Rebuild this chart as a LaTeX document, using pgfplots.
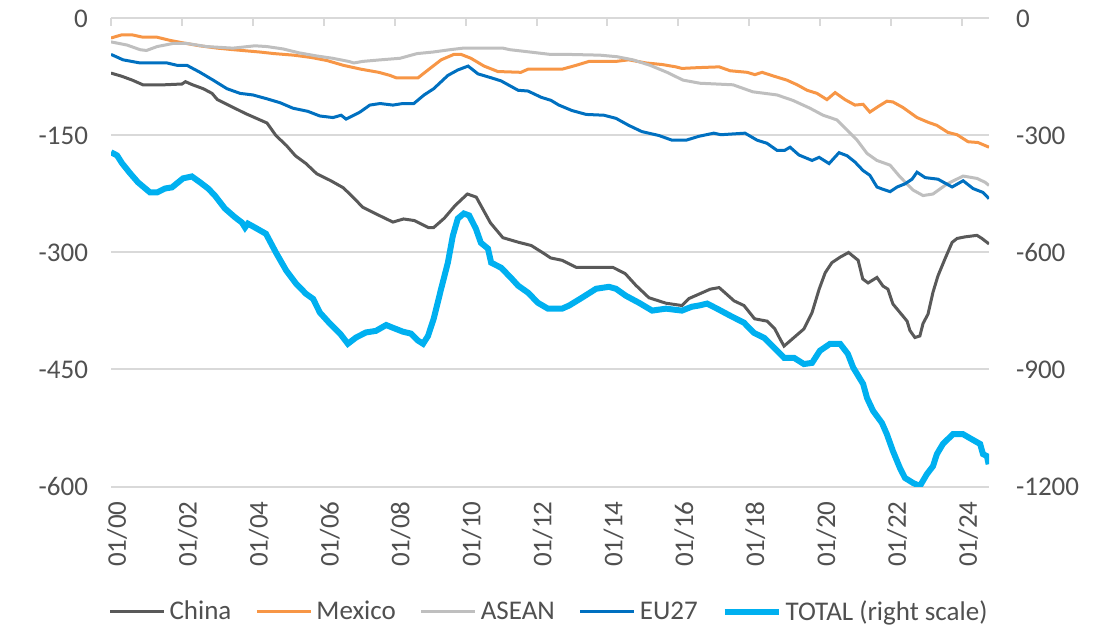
\documentclass[border=0pt]{standalone}
\usepackage{fontspec}
\setmainfont{Carlito}
\usepackage{pgfplots}
\pgfplotsset{compat=1.18}
\definecolor{cChina}{HTML}{595959}
\definecolor{cMexico}{HTML}{F79646}
\definecolor{cAsean}{HTML}{BFBFBF}
\definecolor{cEU}{HTML}{0070C0}
\definecolor{cTotal}{HTML}{00B0F0}
\definecolor{cGrid}{HTML}{D9D9D9}
\definecolor{cText}{HTML}{505050}
\begin{document}
\begin{tikzpicture}
\pgfplotsset{
  common/.style={width=439pt,height=234pt,scale only axis,
    at={(55.5pt,72.75pt)},anchor=south west,
    xmin=2000,xmax=2024.76,
    every tick label/.append style={font=\fontsize{13.5}{16}\selectfont,text=cText},
  },
}
\begin{axis}[common,
  ymin=-600,ymax=0,
  ytick={-600,-450,-300,-150,0},
  yticklabels={-600,-450,-300,-150,0},
  ymajorgrids, grid style={draw=cGrid,line width=1pt},
  axis x line*=bottom, axis y line*=left,
  axis line style={draw=none},
  major tick length=0pt,
  xtick={2000,2002,...,2024},
  xticklabels={01/00,01/02,01/04,01/06,01/08,01/10,01/12,01/14,01/16,01/18,01/20,01/22,01/24},
  xticklabel style={xshift=3pt,yshift=-4pt,rotate=90,anchor=east},
  yticklabel style={xshift=-8pt},
  legend style={at={(0.5,-0.268)},anchor=center,legend columns=5,draw=none,
    font=\fontsize{13.5}{16}\selectfont,text=cText,
    /tikz/every even column/.append style={column sep=10pt}},
  legend cell align=left,
  legend image code/.code={\draw[#1] (0pt,0pt) -- (27pt,0pt);},
]
\addplot[cChina,line width=1.5pt] coordinates {
(2000.0,-70)(2000.3,-74)(2000.6,-79)(2000.9,-85)(2001.5,-85)(2002.0,-84)(2002.1,-81)(2002.3,-85)
(2002.6,-90)(2002.85,-96)(2003.0,-104)(2003.4,-113)(2003.8,-122)(2004.05,-127)(2004.4,-134)
(2004.65,-150)(2004.95,-163)(2005.2,-176)(2005.5,-186)(2005.8,-199)(2006.2,-208)(2006.55,-217)
(2006.8,-228)(2007.1,-242)(2007.45,-250)(2007.95,-261)(2008.25,-257)(2008.55,-259)(2008.95,-268)
(2009.1,-268)(2009.4,-256)(2009.7,-240)(2010.05,-225)(2010.3,-229)(2010.7,-262)(2011.05,-281)
(2011.5,-287)(2011.85,-291)(2012.2,-301)(2012.4,-307)(2012.72,-310)(2013.12,-319)(2014.15,-319)
(2014.5,-327)(2014.8,-342)(2015.17,-358)(2015.65,-365)(2016.1,-368)(2016.3,-359)(2016.6,-353)
(2016.9,-347)(2017.15,-345)(2017.3,-351)(2017.57,-362)(2017.85,-368)(2018.15,-385)(2018.5,-388)
(2018.72,-398)(2018.87,-411)(2018.98,-420)(2019.26,-409)(2019.54,-398)(2019.77,-377)(2019.97,-347)
(2020.14,-326)(2020.33,-313)(2020.56,-306)(2020.8,-300)(2021.07,-310)(2021.2,-334)(2021.35,-339)
(2021.6,-332)(2021.77,-343)(2021.91,-347)(2022.05,-366)(2022.25,-377)(2022.45,-388)(2022.53,-400)
(2022.67,-409)(2022.81,-407)(2022.9,-391)(2023.04,-379)(2023.18,-351)(2023.32,-330)(2023.52,-308)
(2023.72,-287)(2023.86,-282)(2024.08,-280)(2024.42,-278)(2024.56,-282)(2024.76,-289)
};
\addlegendentry{China}
\addplot[cMexico,line width=1.5pt] coordinates {
(2000.0,-25)(2000.3,-21)(2000.6,-21)(2000.9,-24)(2001.3,-24)(2001.66,-28)(2002.0,-31)(2002.5,-35)
(2003.0,-38)(2003.45,-40)(2004.2,-43)(2004.6,-45)(2005.15,-47)(2005.65,-50)(2006.1,-54)(2006.55,-60)
(2007.05,-65)(2007.55,-69)(2007.87,-73)(2008.04,-76)(2008.66,-76)(2008.94,-66)(2009.31,-53)
(2009.67,-46)(2009.87,-46)(2010.15,-51)(2010.52,-61)(2010.91,-68)(2011.56,-69)(2011.76,-65)
(2012.72,-65)(2013.12,-60)(2013.48,-55)(2014.24,-55)(2014.6,-53)(2015.09,-57)(2015.54,-59)
(2015.93,-62)(2016.1,-64)(2016.55,-63)(2017.15,-62)(2017.46,-67)(2017.94,-69)(2018.16,-72)
(2018.36,-69)(2018.7,-74)(2019.06,-79)(2019.35,-85)(2019.63,-92)(2019.91,-96)(2020.19,-104)
(2020.42,-95)(2020.7,-104)(2020.98,-111)(2021.21,-110)(2021.4,-120)(2021.63,-113)(2021.88,-106)
(2022.05,-107)(2022.33,-114)(2022.73,-127)(2023.04,-133)(2023.29,-137)(2023.6,-146)(2023.86,-149)
(2024.17,-158)(2024.45,-159)(2024.76,-165)
};
\addlegendentry{Mexico}
\addplot[cAsean,line width=1.5pt] coordinates {
(2000.0,-30)(2000.45,-34)(2000.82,-40)(2001.0,-41)(2001.3,-36)(2001.75,-32)(2002.14,-32)(2002.7,-36)
(2003.44,-38)(2004.06,-35)(2004.4,-36)(2004.85,-39)(2005.3,-44)(2005.8,-48)(2006.25,-51)(2006.7,-55)
(2006.85,-57)(2007.1,-55)(2007.6,-53)(2008.15,-51)(2008.63,-45)(2009.08,-43)(2009.56,-40)(2009.93,-38)
(2011.05,-38)(2011.25,-40)(2011.82,-43)(2012.38,-46)(2012.86,-46)(2013.79,-47)(2014.27,-49)
(2014.72,-53)(2015.2,-60)(2015.68,-69)(2016.13,-79)(2016.61,-83)(2017.54,-85)(2018.1,-94)
(2018.78,-98)(2019.23,-105)(2019.71,-115)(2020.08,-124)(2020.47,-130)(2020.76,-143)(2021.04,-156)
(2021.32,-173)(2021.6,-182)(2021.97,-188)(2022.25,-203)(2022.62,-220)(2022.9,-227)(2023.18,-225)
(2023.58,-212)(2024.03,-202)(2024.42,-205)(2024.65,-210)(2024.76,-214)
};
\addlegendentry{ASEAN}
\addplot[cEU,line width=1.5pt] coordinates {
(2000.0,-46)(2000.34,-53)(2000.82,-57)(2001.58,-57)(2001.86,-60)(2002.14,-60)(2002.51,-69)
(2002.88,-79)(2003.27,-90)(2003.64,-96)(2004.0,-98)(2004.4,-103)(2004.77,-108)(2005.13,-115)
(2005.55,-119)(2005.89,-125)(2006.26,-127)(2006.49,-124)(2006.63,-129)(2007.02,-120)(2007.3,-111)
(2007.59,-109)(2007.95,-111)(2008.23,-109)(2008.54,-109)(2008.83,-98)(2009.1,-90)(2009.5,-73)
(2009.78,-66)(2010.07,-61)(2010.35,-71)(2010.72,-76)(2011.0,-80)(2011.48,-92)(2011.76,-93)
(2012.13,-101)(2012.41,-105)(2012.63,-111)(2013.0,-118)(2013.4,-123)(2013.9,-124)(2014.24,-128)
(2014.6,-137)(2014.97,-145)(2015.45,-150)(2015.82,-156)(2016.22,-156)(2016.58,-151)(2017.0,-147)
(2017.2,-149)(2017.88,-147)(2018.22,-156)(2018.5,-160)(2018.78,-169)(2019.0,-169)(2019.15,-165)
(2019.4,-175)(2019.77,-182)(2019.97,-178)(2020.25,-186)(2020.53,-172)(2020.76,-176)(2020.98,-184)
(2021.21,-195)(2021.4,-201)(2021.6,-216)(2021.77,-219)(2021.97,-222)(2022.17,-216)(2022.39,-212)
(2022.59,-206)(2022.73,-197)(2022.96,-204)(2023.32,-206)(2023.72,-216)(2024.03,-208)(2024.31,-218)
(2024.59,-223)(2024.76,-231)
};
\addlegendentry{EU27}
\addlegendimage{cTotal,line width=3pt}
\addlegendentry{TOTAL (right scale)}
\end{axis}
\begin{axis}[common,
  ymin=-1200,ymax=0,
  ytick={-1200,-900,-600,-300,0},
  yticklabels={-1200,-900,-600,-300,0},
  axis line style={draw=none},
  xtick pos=right, ytick pos=right, yticklabel pos=right,
  xtick={2000,2002,...,2024},
  xticklabel=\empty,
  xtick align=inside,
  major tick length=4pt,
  xtick style={draw=cGrid,line width=1pt},
  ytick style={draw=none},
  yticklabel style={xshift=10pt},
]
\addplot[cTotal,line width=3pt] coordinates {
(2000.0,-343)(2000.17,-351)(2000.31,-371)(2000.54,-397)(2000.76,-420)(2001.1,-446)(2001.3,-446)
(2001.52,-436)(2001.72,-433)(2002.03,-410)(2002.28,-405)(2002.51,-420)(2002.74,-436)(2002.93,-454)
(2003.21,-487)(2003.5,-510)(2003.69,-523)(2003.78,-536)(2003.86,-526)(2004.06,-536)(2004.37,-552)
(2004.65,-600)(2004.94,-646)(2005.22,-680)(2005.5,-706)(2005.7,-719)(2005.89,-754)(2006.18,-783)
(2006.46,-808)(2006.68,-834)(2006.91,-818)(2007.19,-805)(2007.47,-801)(2007.76,-786)(2007.95,-793)
(2008.23,-803)(2008.46,-808)(2008.66,-826)(2008.8,-834)(2008.94,-814)(2009.1,-770)(2009.31,-693)
(2009.5,-626)(2009.64,-557)(2009.78,-513)(2009.95,-500)(2010.1,-505)(2010.29,-539)(2010.43,-575)
(2010.63,-590)(2010.72,-626)(2011.0,-639)(2011.28,-665)(2011.48,-685)(2011.76,-703)(2012.04,-729)
(2012.32,-744)(2012.72,-744)(2012.92,-736)(2013.28,-716)(2013.68,-693)(2014.04,-688)(2014.24,-693)
(2014.52,-711)(2014.89,-729)(2015.26,-749)(2015.65,-744)(2016.1,-749)(2016.38,-739)(2016.58,-736)
(2016.81,-731)(2017.09,-744)(2017.46,-762)(2017.85,-780)(2018.13,-806)(2018.42,-819)(2018.7,-844)
(2018.98,-870)(2019.26,-870)(2019.54,-886)(2019.77,-883)(2019.99,-852)(2020.28,-834)(2020.56,-834)
(2020.78,-860)(2020.93,-895)(2021.21,-937)(2021.32,-973)(2021.49,-1006)(2021.74,-1037)(2021.88,-1066)
(2022.05,-1109)(2022.25,-1153)(2022.39,-1178)(2022.62,-1191)(2022.81,-1199)(2023.01,-1168)
(2023.18,-1148)(2023.29,-1117)(2023.46,-1091)(2023.74,-1066)(2024.03,-1066)(2024.22,-1076)
(2024.51,-1091)(2024.59,-1117)(2024.7,-1122)(2024.75,-1143)
};
\end{axis}
\pgfresetboundingbox
\path (0pt,0pt) rectangle (555pt,316pt);
\end{tikzpicture}
\end{document}
